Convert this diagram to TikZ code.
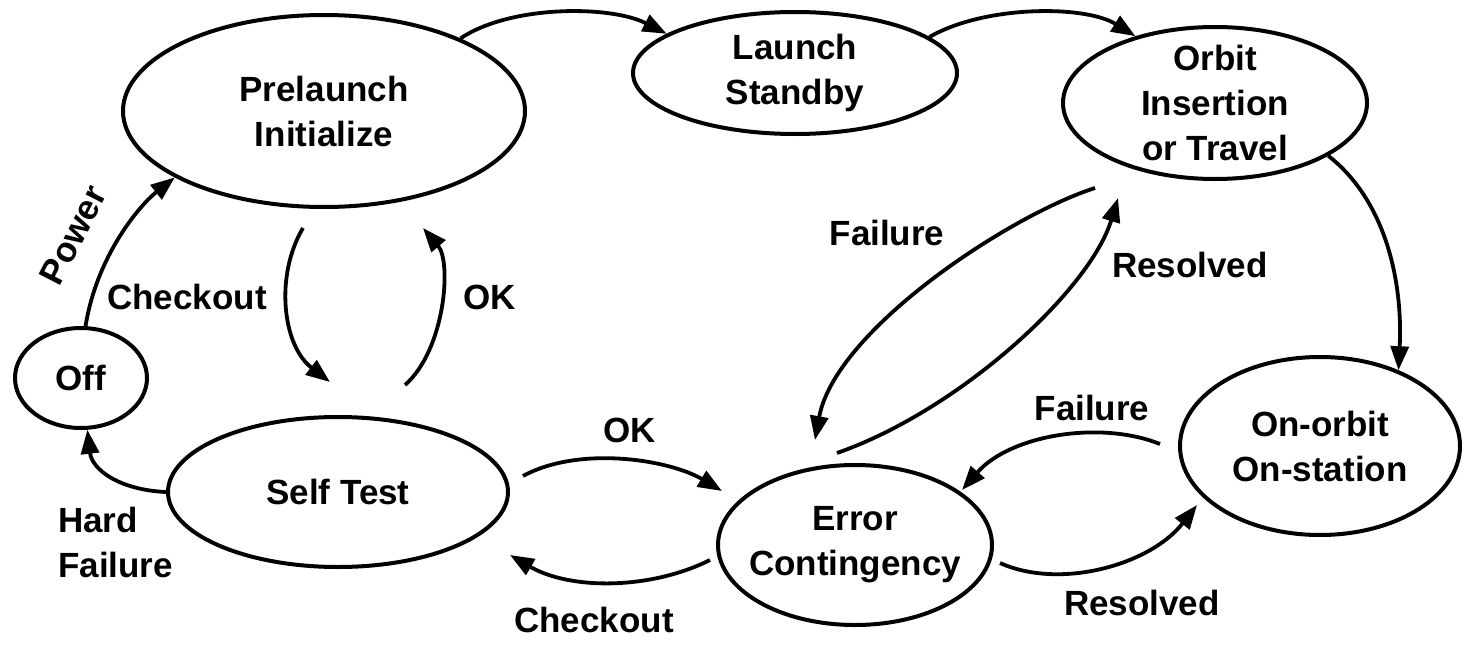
\documentclass[tikz,border=0pt]{standalone}
\usepackage{fontspec}
\setmainfont{Liberation Sans}
\usetikzlibrary{shapes.geometric,arrows.meta}
\newcommand{\statefont}{\bfseries\fontsize{35}{45}\selectfont}
\begin{document}
\begin{tikzpicture}[x=1pt,y=-1pt,
  state/.style={draw, ellipse, line width=4pt, inner sep=0pt, align=center, font=\statefont},
  conn/.style={line width=3.8pt, -{Triangle[length=24pt,width=18pt]}},
  lbl/.style={inner sep=0pt, font=\statefont}]
\useasboundingbox (0,0) rectangle (1462,645);
% states
\node[state, minimum width=402pt, minimum height=192pt] (pre) at (324,111) {Prelaunch\\Initialize};
\node[state, minimum width=324pt, minimum height=122pt] (ls) at (795,73) {Launch\\Standby};
\node[state, minimum width=304pt, minimum height=152pt, inner ysep=-15pt] (orb) at (1215,103) {Orbit\\Insertion\\or Travel};
\node[state, minimum width=132pt, minimum height=100pt] (off) at (81,378) {Off};
\node[state, minimum width=340pt, minimum height=150pt] (st) at (338,492) {Self Test};
\node[state, minimum width=274pt, minimum height=160pt, inner xsep=-40pt] (err) at (855,545) {Error\\Contingency};
\node[state, minimum width=280pt, minimum height=178pt] (on) at (1320,446) {On-orbit\\On-station};
% free ends
\coordinate (cka) at (303,228);
\coordinate (ckb) at (330,382);
\coordinate (oka) at (405,385);
\coordinate (okb) at (423,228);
\coordinate (okc) at (523,476);
\coordinate (okd) at (722,491);
\coordinate (cke) at (710,560);
\coordinate (ckf) at (510,555);
\coordinate (fa) at (1095,188);
\coordinate (fb) at (815,440);
\coordinate (ra) at (837,453);
\coordinate (rb) at (1118,198);
\coordinate (fc) at (1160,444);
\coordinate (fd) at (962,490);
\coordinate (rc) at (1000,563);
\coordinate (rd) at (1197,505);
% connectors
\draw[conn] (off.85) .. controls (97,255) and (140,205) .. (pre.204);
\draw[conn] (pre.28) .. controls (510,5) and (610,5) .. (ls.163);
\draw[conn] (ls.15) .. controls (985,5) and (1085,5) .. (orb.140);
\draw[conn] (orb.-25) .. controls (1385,200) and (1403,280) .. (on.44);
\draw[conn] (cka) .. controls (275,275) and (282,345) .. (ckb);
\draw[conn] (oka) .. controls (445,350) and (452,262) .. (okb);
\draw[conn] (okc) .. controls (580,445) and (670,460) .. (okd);
\draw[conn] (cke) .. controls (650,590) and (570,590) .. (ckf);
\draw[conn] (fa) .. controls (1010,215) and (835,330) .. (fb);
\draw[conn] (ra) .. controls (960,410) and (1090,290) .. (rb);
\draw[conn] (fc) .. controls (1100,420) and (1010,435) .. (fd);
\draw[conn] (rc) .. controls (1060,590) and (1150,565) .. (rd);
\draw[conn] (st.180) .. controls (120,490) and (92,470) .. (off.-83);
% labels
\node[lbl, rotate=63] (lpow) at (73,235) {Power};
\node[lbl] (lck1) at (187,297) {Checkout};
\node[lbl] (lok1) at (490,297) {OK};
\node[lbl] (lok2) at (630,430) {OK};
\node[lbl] (lck2) at (594,620) {Checkout};
\node[lbl] (lf1) at (887,233) {Failure};
\node[lbl] (lr1) at (1190,265) {Resolved};
\node[lbl] (lf2) at (1092,408) {Failure};
\node[lbl] (lr2) at (1142,603) {Resolved};
\node[lbl, align=left, anchor=west] (lhf) at (58,542) {Hard\\Failure};
\end{tikzpicture}
\end{document}
